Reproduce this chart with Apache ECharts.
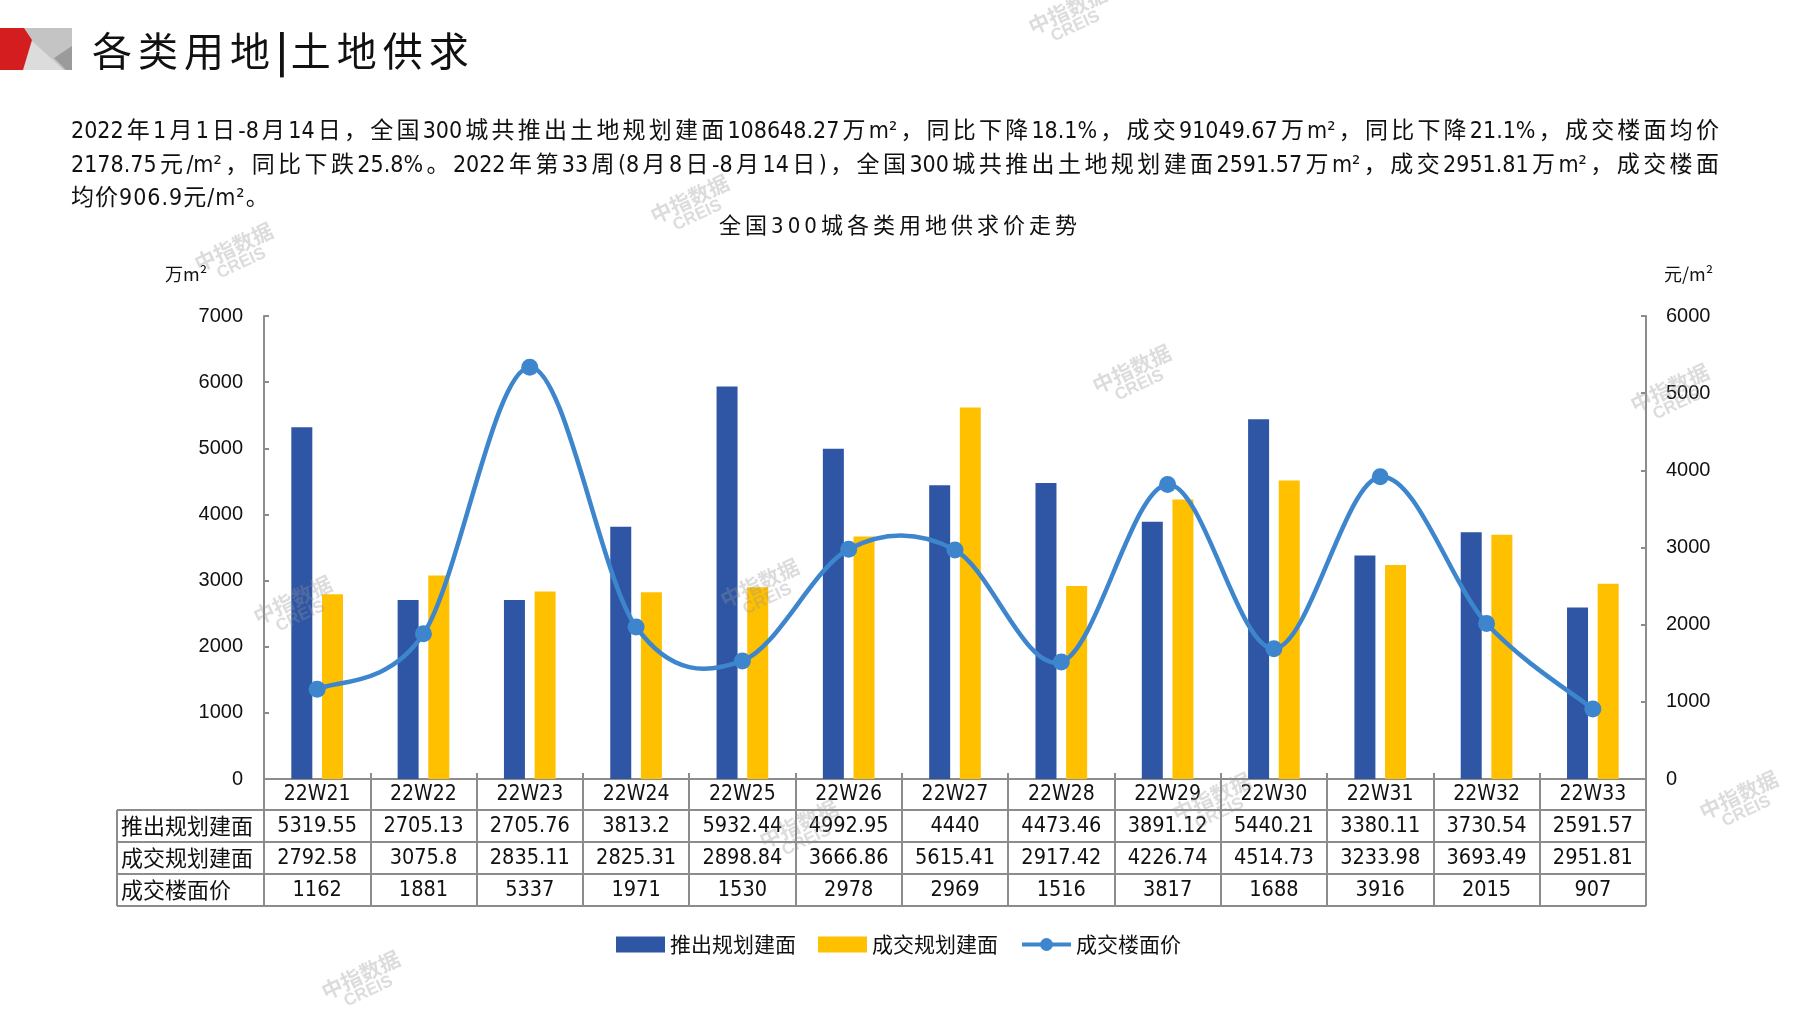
<!DOCTYPE html>
<html>
<head>
<meta charset="utf-8">
<title>各类用地|土地供求</title>
<script src="https://cdn.jsdelivr.net/npm/echarts@6/dist/echarts.min.js"></script>
<style>
  html, body { margin: 0; padding: 0; background: #fff; }
  #page { position: relative; width: 1797px; height: 1010px; overflow: hidden; }
  #chart { position: absolute; left: 0; top: 0; width: 1797px; height: 1010px; }
  .txt { position: absolute; color: #111; white-space: nowrap;
         font-family: 'Liberation Sans Narrow', 'DejaVu Sans Condensed', 'Noto Sans CJK SC', sans-serif; }
  #head { left: 92px; top: 20px; font-size: 40px; letter-spacing: 6px; font-family: 'Noto Sans CJK SC', sans-serif; }
  #head b { font-weight: 700; letter-spacing: 3px; }
  #para { left: 71px; top: 114px; width: 1648px; font-size: 23px; line-height: 33.5px; }
  #para div { text-align: justify; text-align-last: justify; }
  #para div.last { text-align-last: left; letter-spacing: 1px; }
  #ctitle { left: 0; top: 207px; width: 1800px; text-align: center; font-size: 22px; letter-spacing: 4px; }
</style>
</head>
<body>
<div id="page">
  <div id="chart"></div>
  <div class="txt" id="head">各类用地<b>|</b>土地供求</div>
  <div class="txt" id="para">
    <div>2022年1月1日-8月14日，全国300城共推出土地规划建面108648.27万m²，同比下降18.1%，成交91049.67万m²，同比下降21.1%，成交楼面均价</div>
    <div>2178.75元/m²，同比下跌25.8%。2022年第33周(8月8日-8月14日)，全国300城共推出土地规划建面2591.57万m²，成交2951.81万m²，成交楼面</div>
    <div class="last">均价906.9元/m²。</div>
  </div>
  <div class="txt" id="ctitle">全国300城各类用地供求价走势</div>
</div>
<script>
// 周次
const weeks = ['22W21', '22W22', '22W23', '22W24', '22W25', '22W26', '22W27',
  '22W28', '22W29', '22W30', '22W31', '22W32', '22W33'];
// 推出规划建面（万㎡）
const supply = [5319.55, 2705.13, 2705.76, 3813.2, 5932.44, 4992.95, 4440,
  4473.46, 3891.12, 5440.21, 3380.11, 3730.54, 2591.57];
// 成交规划建面（万㎡）
const deal = [2792.58, 3075.8, 2835.11, 2825.31, 2898.84, 3666.86, 5615.41,
  2917.42, 4226.74, 4514.73, 3233.98, 3693.49, 2951.81];
// 成交楼面价（元/㎡）
const price = [1162, 1881, 5337, 1971, 1530, 2978, 2969, 1516, 3817, 1688, 3916, 2015, 907];
// 表格行名
const rowNames = ['推出规划建面', '成交规划建面', '成交楼面价'];
const rowData = [supply, deal, price];

const BLUE = '#2F56A5', YELLOW = '#FFC000', LINE = '#3D86CE', GRID = '#8c8c8c';
const NUM_FONT = "'Liberation Sans Narrow', 'DejaVu Sans Condensed', 'Noto Sans CJK SC', sans-serif";
const CJK = "'Noto Sans CJK SC', sans-serif";

// 表格尺寸
const gridL = 264, gridR = 1646, axisY = 779, rowH = 32, tableL = 117;
const tableB = axisY + rowH * 4 - 1;

const myChart = echarts.init(document.getElementById('chart'));

// 行数据轴（用分类轴的标签当表格文字）
const rowAxes = rowData.map((arr, i) => ({
  type: 'category',
  data: arr.map(v => String(v)),
  position: 'bottom',
  offset: rowH * (i + 1) - 1,
  axisLine: { show: false },
  axisTick: { show: false },
  axisLabel: { interval: 0, margin: 6, fontSize: 21.5, color: '#111', fontFamily: NUM_FONT }
}));

// 平滑曲线（类似 Excel 的平滑线），点位来自坐标轴换算
function renderCurve(params, api) {
  const i = params.dataIndex;
  const n = price.length;
  if (i >= n - 1) return null;
  const pt = k => {
    const j = Math.max(0, Math.min(n - 1, k));
    return api.coord([j, price[j]]);
  };
  const p0 = pt(i - 1), p1 = pt(i), p2 = pt(i + 1), p3 = pt(i + 2);
  return {
    type: 'bezierCurve',
    shape: {
      x1: p1[0], y1: p1[1], x2: p2[0], y2: p2[1],
      cpx1: p1[0] + (p2[0] - p0[0]) / 6, cpy1: p1[1] + (p2[1] - p0[1]) / 6,
      cpx2: p2[0] - (p3[0] - p1[0]) / 6, cpy2: p2[1] - (p3[1] - p1[1]) / 6
    },
    style: { stroke: LINE, lineWidth: 4.5, fill: 'none' }
  };
}

// 表格框线、行名、单位、logo
const g = [];
[axisY + rowH - 1, axisY + rowH * 2 - 1, axisY + rowH * 3 - 1, tableB].forEach(y => {
  g.push({ type: 'line', shape: { x1: tableL, y1: y, x2: gridR, y2: y }, style: { stroke: GRID, lineWidth: 2 } });
});
g.push({ type: 'line', shape: { x1: tableL, y1: axisY + rowH - 1, x2: tableL, y2: tableB }, style: { stroke: GRID, lineWidth: 2 } });
g.push({ type: 'line', shape: { x1: gridL, y1: axisY, x2: gridL, y2: tableB }, style: { stroke: GRID, lineWidth: 2 } });
rowNames.forEach((n, i) => {
  g.push({ type: 'text', x: 121, y: axisY + rowH * (i + 1) + 15,
    style: { text: n, fill: '#111', font: '22px ' + CJK, verticalAlign: 'middle', textVerticalAlign: 'middle' } });
});
g.push({ type: 'text', x: 165, y: 274, style: { text: '万m²', fill: '#111', font: '18px ' + CJK, verticalAlign: 'middle', textVerticalAlign: 'middle' } });
g.push({ type: 'text', x: 1664, y: 274, style: { text: '元/m²', fill: '#111', font: '18px ' + CJK, verticalAlign: 'middle', textVerticalAlign: 'middle' } });
// logo
g.push({ type: 'rect', shape: { x: 24, y: 28, width: 48, height: 42 }, style: { fill: '#c4c4c4' } });
g.push({ type: 'polygon', shape: { points: [[31, 40], [64, 70], [22, 70]] }, style: { fill: '#dcdcdc' } });
g.push({ type: 'polygon', shape: { points: [[72, 46], [54, 58], [66, 70], [72, 70]] }, style: { fill: '#9b9b9b' } });
g.push({ type: 'polygon', shape: { points: [[0, 28], [24, 28], [32, 40], [23, 70], [0, 70]] }, style: { fill: '#d41d1f' } });
// 水印
const marks = [[1071, 17], [693, 206], [237, 254], [1135, 376], [1673, 395], [296, 607],
  [763, 590], [802, 831], [1215, 804], [1742, 802], [364, 982]];
marks.forEach(p => {
  g.push({ type: 'text', x: p[0], y: p[1], rotation: 0.44, z: 100,
    style: { text: '{a|中指数据}\n{b|CREIS}', align: 'center', verticalAlign: 'middle',
      textAlign: 'center', textVerticalAlign: 'middle',
      rich: { a: { fontSize: 21, fontWeight: 'bold', fontFamily: CJK, fill: 'rgba(150,150,150,0.33)', color: 'rgba(150,150,150,0.33)', align: 'center' },
              b: { fontSize: 17, fontWeight: 'bold', fontFamily: 'Liberation Sans, sans-serif', fill: 'rgba(150,150,150,0.33)', color: 'rgba(150,150,150,0.33)', align: 'center', lineHeight: 16 } } } });
});

const option = {
  animation: false,
  grid: { left: gridL, right: 1797 - gridR, top: 316, bottom: 1010 - axisY },
  legend: {
    left: 'center', top: 929,
    itemWidth: 49, itemHeight: 16, itemGap: 22,
    textStyle: { fontSize: 21, color: '#111', fontFamily: CJK },
    data: [
      { name: '推出规划建面', icon: 'rect' },
      { name: '成交规划建面', icon: 'rect' },
      { name: '成交楼面价', lineStyle: { color: LINE, width: 4, opacity: 1 } }
    ]
  },
  xAxis: [
    {
      type: 'category', data: weeks,
      axisLine: { lineStyle: { color: GRID, width: 2 } },
      axisTick: { show: true, interval: 0, length: tableB - axisY, lineStyle: { color: GRID, width: 2 } },
      axisLabel: { interval: 0, margin: 5, fontSize: 21, color: '#111', fontFamily: NUM_FONT }
    },
    ...rowAxes,
    {
      type: 'category', data: weeks, position: 'bottom',
      axisLine: { show: false },
      axisTick: { show: true, inside: true, interval: 0, length: 6, lineStyle: { color: GRID, width: 2 } },
      axisLabel: { show: false }
    }
  ],
  yAxis: [
    {
      type: 'value', min: 0, max: 7000, interval: 1000,
      axisLine: { show: true, lineStyle: { color: GRID, width: 2 } },
      axisTick: { show: true, inside: true, length: 5, lineStyle: { color: GRID, width: 2 } },
      axisLabel: { margin: 21, fontSize: 20, color: '#111', fontFamily: 'Liberation Sans, sans-serif', formatter: v => String(v) },
      splitLine: { show: false }
    },
    {
      type: 'value', min: 0, max: 6000, interval: 1000, position: 'right',
      axisLine: { show: true, lineStyle: { color: GRID, width: 2 } },
      axisTick: { show: true, inside: true, length: 5, lineStyle: { color: GRID, width: 2 } },
      axisLabel: { margin: 20, fontSize: 20, color: '#111', fontFamily: 'Liberation Sans, sans-serif', formatter: v => String(v) },
      splitLine: { show: false }
    }
  ],
  series: [
    { name: '推出规划建面', type: 'bar', data: supply, barWidth: 21, barGap: '46%', itemStyle: { color: BLUE } },
    { name: '成交规划建面', type: 'bar', data: deal, barWidth: 21, itemStyle: { color: YELLOW } },
    {
      type: 'custom', yAxisIndex: 1, z: 3,
      data: price.map((v, i) => [i, v]),
      encode: { x: 0, y: 1 },
      renderItem: renderCurve
    },
    {
      name: '成交楼面价', type: 'line', yAxisIndex: 1, data: price, z: 4,
      symbol: 'circle', symbolSize: 17,
      lineStyle: { color: LINE, width: 4.5, opacity: 0 }, itemStyle: { color: LINE }
    }
  ],
  graphic: g
};

myChart.setOption(option);
</script>
</body>
</html>
